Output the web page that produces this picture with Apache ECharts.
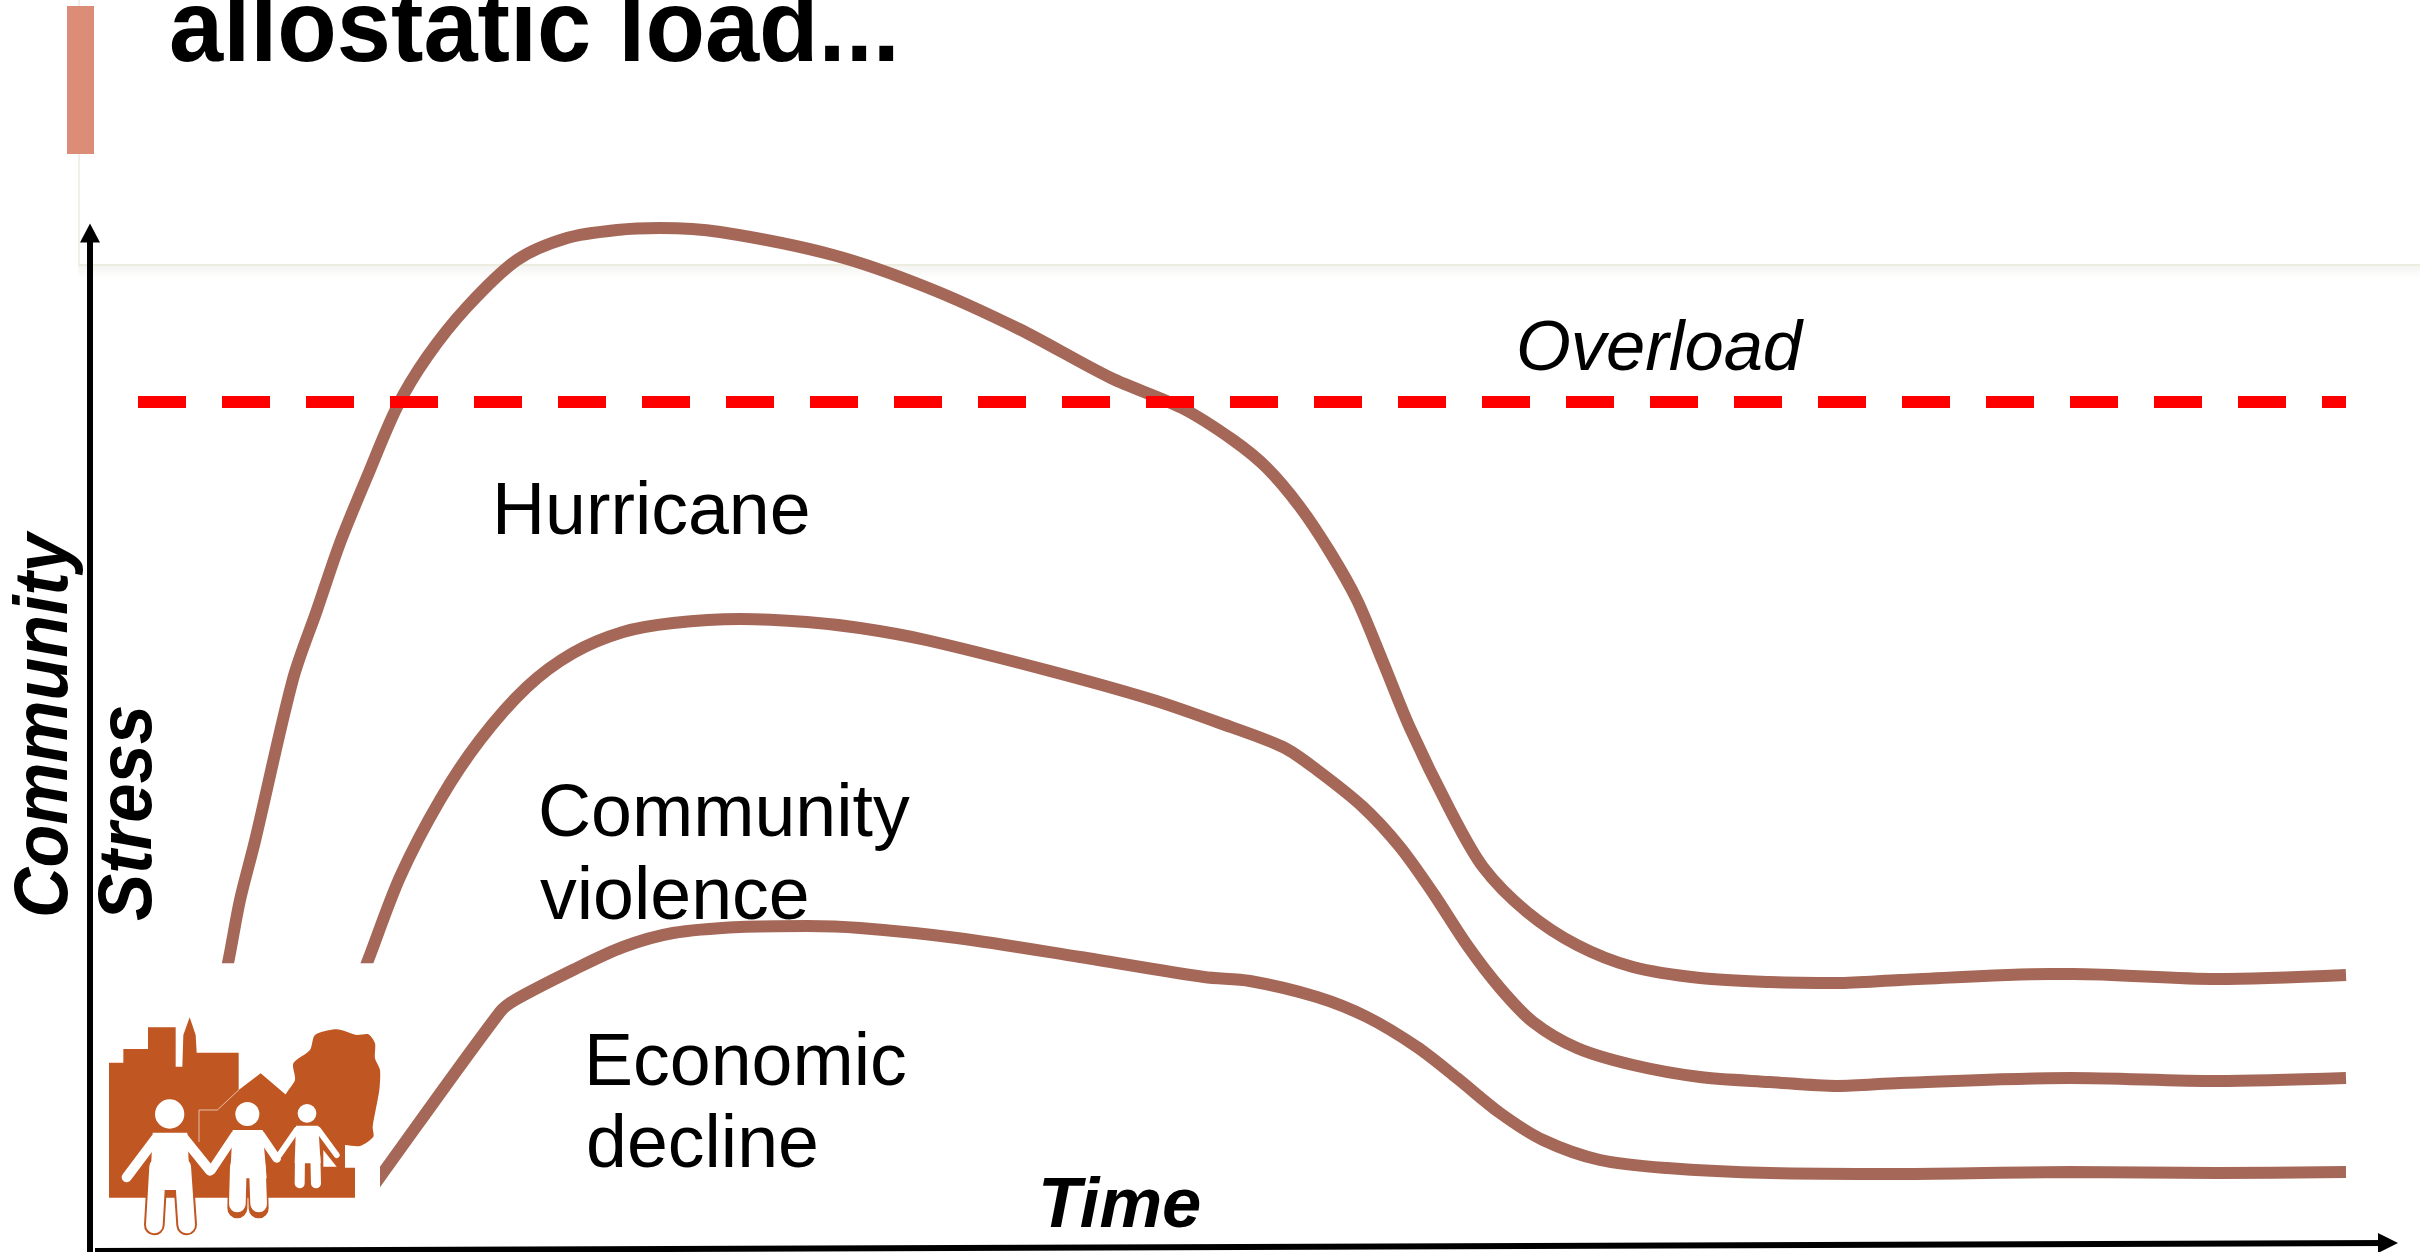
<!DOCTYPE html>
<html>
<head>
<meta charset="utf-8">
<title>allostatic load</title>
<style>
  html, body { margin: 0; padding: 0; background: #fff; }
  #chart { width: 2420px; height: 1252px; }
</style>
<script src="https://cdn.jsdelivr.net/npm/echarts@6/dist/echarts.min.js"></script>
</head>
<body>
<div id="chart"></div>
<script>
// values, [time, stress], both in arbitrary units
const hurricane = [[128,239],[138,281],[150,344],[165,403],[203,565],[227,634],[250,701],[277,767],[307,837],[337,887],[377,937],[427,984],[477,1006],[527,1014],[570,1016],[630,1012],[743,989],[836,957],[929,915],[1021,866],[1092,836],[1143,804],[1177,776],[1210,737],[1240,692],[1267,644],[1293,582],[1320,516],[1360,434],[1393,377],[1437,332],[1487,299],[1543,277],[1610,266],[1680,262],[1747,261],[1810,264],[1960,270],[1983,270],[2127,265],[2256,269]];
const violence = [[260,239],[277,281],[310,367],[350,444],[390,504],[437,557],[483,591],[533,612],[583,621],[650,625],[717,622],[770,616],[836,604],[960,573],[1060,545],[1127,522],[1193,497],[1227,474],[1273,437],[1310,397],[1343,351],[1377,299],[1410,256],[1443,222],[1487,196],[1543,179],[1610,167],[1680,162],[1747,158],[1810,161],[1980,166],[2127,163],[2256,166]];
const economic = [[270,39],[290,67],[410,232],[425,244],[483,274],[533,297],[583,311],[650,317],[717,318],[770,316],[867,306],[990,287],[1114,267],[1160,263],[1227,247],[1277,227],[1327,197],[1367,166],[1410,131],[1453,104],[1510,84],[1577,76],[1680,71],[1810,70],[1980,72],[2127,71],[2256,72]];
const overload = [[48,842],[2256,842]];
const timeAxisEnds = [[5,-7],[2298,1]];

const titleText = 'allostatic load...';
const overloadText = 'Overload';
const hurricaneText = 'Hurricane';
const violenceLines = ['Community', 'violence'];
const economicLines = ['Economic', 'decline'];
const yAxisLines = ['Community', 'Stress'];
const xAxisText = 'Time';

const FONT = '"Liberation Sans", Arial, sans-serif';
const CURVE = '#A56858';
const ORANGE = '#C05622';

// y is the baseline of the text
function label(text, x, y, size, weight, scaleX) {
  return {
    type: 'text', x: x, y: y + size * 0.212, z: 50, scaleX: scaleX || 1,
    style: {
      text: text, fill: '#000', font: (weight ? weight + ' ' : '') + size + 'px ' + FONT,
      textAlign: 'left', textVerticalAlign: 'bottom'
    }
  };
}

function rotated(text, x, y, size, scaleX) {
  return {
    type: 'text', x: x, y: y, rotation: Math.PI / 2, scaleX: scaleX, z: 50,
    style: { text: text, fill: '#000', font: 'italic bold ' + size + 'px ' + FONT, textAlign: 'left' }
  };
}

// stroke helper for the limbs of the figures in the little logo
function limb(points, width, color, z) {
  return { type: 'polyline', z: z, shape: { points: points }, style: { stroke: color || '#fff', lineWidth: width, lineCap: 'round', lineJoin: 'round', fill: null } };
}

function fill(points, color, z, smooth) {
  return { type: 'polygon', z: z, shape: { points: points, smooth: smooth || 0 }, style: { fill: color } };
}

function head(cx, cy, r) {
  return { type: 'circle', z: 65, shape: { cx: cx, cy: cy, r: r }, style: { fill: '#fff' } };
}

// logo, coordinates of the 3x crop, scaled down by the group
const logo = {
  type: 'group', x: 0, y: 900, scaleX: 1 / 3, scaleY: 1 / 3,
  children: [
    { type: 'rect', z: 60, shape: { x: 300, y: 190, width: 840, height: 816 }, style: { fill: '#fff' } },
    fill([[327,488],[370,488],[370,447],[444,447],[444,382],[527,382],[527,500],[547,500],[550,405],[569,352],[587,405],[590,458],[716,458],[716,570],[782,520],[855,582],[1035,700],[1035,803],[1065,803],[1065,893],[327,893]], ORANGE, 61),
    fill([[855,590],[885,540],[880,490],[930,450],[945,405],[1010,388],[1070,405],[1105,403],[1125,430],[1125,475],[1140,510],[1138,570],[1118,680],[1120,710],[1080,738],[1035,735],[950,740],[860,700]], ORANGE, 61, 0.25),
    limb([[597,725],[597,630],[652,630],[716,570]], 3, '#E8C0A8', 62),
    fill([[970,750],[1010,800],[970,800]], '#fff', 62),
    // figure 1
    limb([[473,800],[463,975]], 62, ORANGE, 63),
    limb([[548,800],[560,975]], 62, ORANGE, 63),
    head(509, 642, 44),
    fill([[458,698],[562,698],[570,870],[450,870]], '#fff', 65),
    limb([[473,800],[463,975]], 50, '#fff', 65),
    limb([[548,800],[560,975]], 50, '#fff', 65),
    limb([[468,715],[380,832]], 30, '#fff', 65),
    limb([[552,715],[630,812]], 30, '#fff', 65),
    // figure 2
    limb([[715,800],[712,925]], 60, ORANGE, 63),
    limb([[772,800],[776,925]], 60, ORANGE, 63),
    head(742, 642, 36),
    fill([[698,690],[788,690],[800,835],[690,835]], '#fff', 65),
    limb([[715,800],[712,912]], 50, '#fff', 65),
    limb([[772,800],[776,912]], 50, '#fff', 65),
    limb([[705,705],[635,810]], 26, '#fff', 65),
    limb([[782,705],[830,775]], 26, '#fff', 65),
    // figure 3
    head(921, 640, 28),
    fill([[888,677],[955,677],[962,790],[884,790]], '#fff', 65),
    limb([[900,770],[899,850]], 30, '#fff', 65),
    limb([[946,770],[948,850]], 30, '#fff', 65),
    limb([[890,690],[838,765]], 18, '#fff', 65),
    limb([[955,690],[1010,765]], 18, '#fff', 65)
  ]
};

const curveStyle = { color: CURVE, width: 12, cap: 'butt' };

function curve(name, data) {
  return {
    name: name, type: 'line', data: data, smooth: 0.3, symbol: 'none',
    clip: false, silent: true, z: 3, lineStyle: curveStyle
  };
}

const option = {
  backgroundColor: '#fff',
  animation: false,
  grid: { left: 90, top: 233, width: 2300, height: 1019 },
  xAxis: {
    type: 'value', min: 0, max: 2300,
    axisLine: { show: false }, axisTick: { show: false }, axisLabel: { show: false }, splitLine: { show: false }
  },
  yAxis: {
    type: 'value', min: -8, max: 1011,
    axisLine: {
      show: true, onZero: false, symbol: ['none', 'triangle'], symbolSize: [20, 19],
      lineStyle: { color: '#000', width: 6 }
    },
    axisTick: { show: false }, axisLabel: { show: false }, splitLine: { show: false }
  },
  graphic: [
    // pale slide panel behind the plot
    { type: 'rect', z: 0, shape: { x: 78, y: 0, width: 2, height: 265 }, style: { fill: '#F0F0E6' } },
    { type: 'rect', z: 0, shape: { x: 78, y: 264, width: 2342, height: 2 }, style: { fill: '#ECECDF' } },
    {
      type: 'rect', z: 0, shape: { x: 78, y: 266, width: 2342, height: 12 },
      style: { fill: new echarts.graphic.LinearGradient(0, 0, 0, 1, [{ offset: 0, color: '#F4F4F2' }, { offset: 1, color: '#FFFFFF' }]) }
    },
    { type: 'rect', z: 1, shape: { x: 67, y: 6, width: 27, height: 148 }, style: { fill: '#DB8D78' } },
    label(titleText, 169, 62, 102, 'bold', 0.955),
    label(overloadText, 1516, 370, 70.5, 'italic'),
    label(hurricaneText, 492, 535, 73.5),
    label(violenceLines[0], 538, 837, 73.5),
    label(violenceLines[1], 540, 920, 73.5),
    label(economicLines[0], 584, 1086, 73.5),
    label(economicLines[1], 586, 1168, 73.5),
    rotated(yAxisLines[0], 8, 918, 76, 0.92),
    rotated(yAxisLines[1], 92, 921, 76, 0.93),
    label(xAxisText, 1038, 1228, 70.5, 'italic bold'),
    logo
  ],
  series: [
    curve('Hurricane', hurricane),
    curve('Community violence', violence),
    curve('Economic decline', economic),
    {
      name: 'Overload', type: 'line', data: overload, symbol: 'none', clip: false, silent: true, z: 4,
      lineStyle: { color: '#FF0000', width: 12, type: [48, 36], cap: 'butt' }
    },
    {
      name: 'Time axis', type: 'line', data: [], silent: true, z: 5,
      markLine: {
        silent: true, animation: false, symbol: ['none', 'triangle'], symbolSize: 20, label: { show: false },
        lineStyle: { color: '#000', width: 6, type: 'solid' },
        data: [[{ coord: timeAxisEnds[0] }, { coord: timeAxisEnds[1] }]]
      }
    }
  ]
};

const myChart = echarts.init(document.getElementById('chart'));
myChart.setOption(option);
</script>
</body>
</html>
